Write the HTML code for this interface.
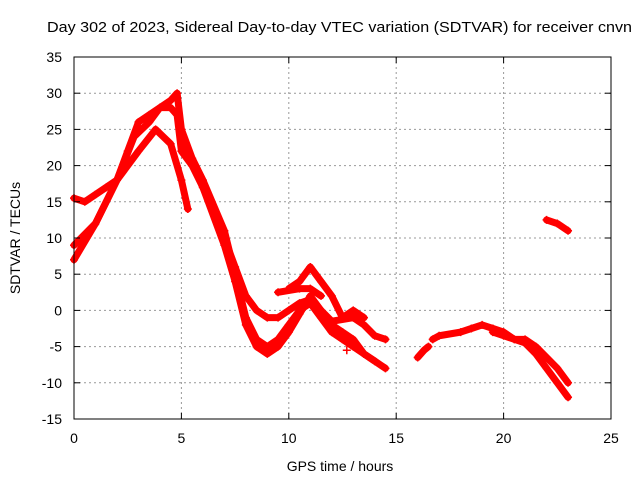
<!DOCTYPE html>
<html><head><meta charset="utf-8"><style>
body{margin:0;background:#fff;}
svg{display:block;font-family:"Liberation Sans",sans-serif;}
</style></head><body>
<svg id="chart" width="640" height="480">
<text x="47" y="32" font-size="15" textLength="585" lengthAdjust="spacingAndGlyphs">Day 302 of 2023, Sidereal Day-to-day VTEC variation (SDTVAR) for receiver cnvn</text>
<text x="340" y="471" font-size="14" text-anchor="middle">GPS time / hours</text>
<text x="20" y="238" font-size="14" text-anchor="middle" transform="rotate(-90 20 238)">SDTVAR / TECUs</text>
<g id="grid"></g>
<g id="series"></g>
<rect x="74" y="57" width="537" height="362" fill="none" stroke="#000" stroke-width="1"/>
<g id="ticks"></g>
</svg>
<script>
const xTicks=[0,5,10,15,20,25];
const yTicks=[-15,-10,-5,0,5,10,15,20,25,30,35];
const trackA=[[0,7],[1,12],[2,18],[2.8,24],[3.5,26],[4,28],[4.5,28],[4.8,27],[5,22],[5.5,20],[6,17],[7,10],[7.5,6],[8,2],[8.5,0],[9,-1],[9.5,-1],[10,0],[10.5,1],[11,1.5],[11.5,0],[12,-1.5],[13,-1],[13.5,-2],[14,-3.5],[14.5,-4]];
const trackB=[[0,9],[1,12],[2,18],[3,22],[3.8,25],[4.5,23],[5,18],[5.3,14]];
const trackC=[[0,15.5],[0.5,15],[1,16],[1.5,17],[2,18],[2.5,22],[3,26],[3.5,27],[4,28],[4.5,29],[4.8,30],[5,25],[5.5,21],[6,18],[7,11],[7.5,5],[8,-1],[8.5,-4],[9,-5],[9.5,-4],[10,-2],[10.5,0],[11,1],[11.5,-1],[12,-3],[12.5,-4],[13,-5],[13.5,-6],[14,-7],[14.5,-8]];
const trackD=[[5.2,23],[6,17],[7,9],[7.5,4],[8,-2],[8.5,-5],[9,-6],[9.5,-5],[10,-3],[10.5,-0.5],[11,2],[11.5,0],[12,-2],[12.5,-3],[13,-4],[13.5,-6],[14,-7]];
const trackE=[[10,3],[10.5,4],[11,6],[11.5,4],[12,2],[12.5,-1],[13,0],[13.5,-1]];
const trackF=[[9.5,2.5],[10.5,3],[11,3],[11.5,2]];
const trackG=[[16,-6.5],[16.3,-5.5],[16.5,-5]];
const trackH=[[16.7,-4],[17,-3.5],[18,-3],[18.5,-2.5],[19,-2],[19.5,-2.5],[20,-3],[20.5,-4],[21,-4],[21.5,-5],[22,-6.5],[22.5,-8],[23,-10]];
const trackI=[[19.5,-3],[20,-3.5],[21,-4.5],[21.5,-6],[22,-8],[22.5,-10],[23,-12]];
const trackJ=[[22,12.5],[22.5,12],[23,11]];
const trackK=[[12.7,-5.5]];
const tracks=[trackA,trackB,trackC,trackD,trackE,trackF,trackG,trackH,trackI,trackJ,trackK];
const NS="http://www.w3.org/2000/svg";
const X=v=>74+(v-0)/25*537;
const Y=v=>419-(v+15)/50*362;
const grid=document.getElementById('grid'),ticks=document.getElementById('ticks'),ser=document.getElementById('series');
function mk(tag,attrs,parent){const e=document.createElementNS(NS,tag);for(const k in attrs)e.setAttribute(k,attrs[k]);parent.appendChild(e);return e;}
xTicks.forEach(t=>{
  if(t>0&&t<25){const g=mk('line',{x1:X(t),x2:X(t),y1:57,y2:419,stroke:'#999','stroke-dasharray':'2,3','stroke-width':1},grid);
  
  }
  mk('line',{x1:X(t),x2:X(t),y1:419,y2:413,stroke:'#000'},ticks);
  mk('line',{x1:X(t),x2:X(t),y1:57,y2:63,stroke:'#000'},ticks);
  const l=mk('text',{x:X(t),y:443,'font-size':14,'text-anchor':'middle'},ticks);l.textContent=t;
  
  
});
yTicks.forEach(t=>{
  if(t>-15&&t<35){const g=mk('line',{x1:74,x2:611,y1:Y(t),y2:Y(t),stroke:'#999','stroke-dasharray':'2,3','stroke-width':1},grid);
  
  }
  mk('line',{x1:74,x2:80,y1:Y(t),y2:Y(t),stroke:'#000'},ticks);
  mk('line',{x1:605,x2:611,y1:Y(t),y2:Y(t),stroke:'#000'},ticks);
  const l=mk('text',{x:62,y:Y(t)+5,'font-size':14,'text-anchor':'end'},ticks);l.textContent=t;
  
  
});
tracks.forEach(tr=>{
  if(tr.length>1){const p=mk('polyline',{points:tr.map(d=>X(d[0])+','+Y(d[1])).join(' '),fill:'none',stroke:'#f00','stroke-width':7,'stroke-linejoin':'round','stroke-linecap':'round'},ser);
  
  }
  tr.forEach(d=>{const x=X(d[0]),y=Y(d[1]);
    const m=mk('path',{d:`M${x-4},${y}H${x+4}M${x},${y-4}V${y+4}`,stroke:'#f00','stroke-width':1.5},ser);
    
    });
});
</script>
</body></html>
